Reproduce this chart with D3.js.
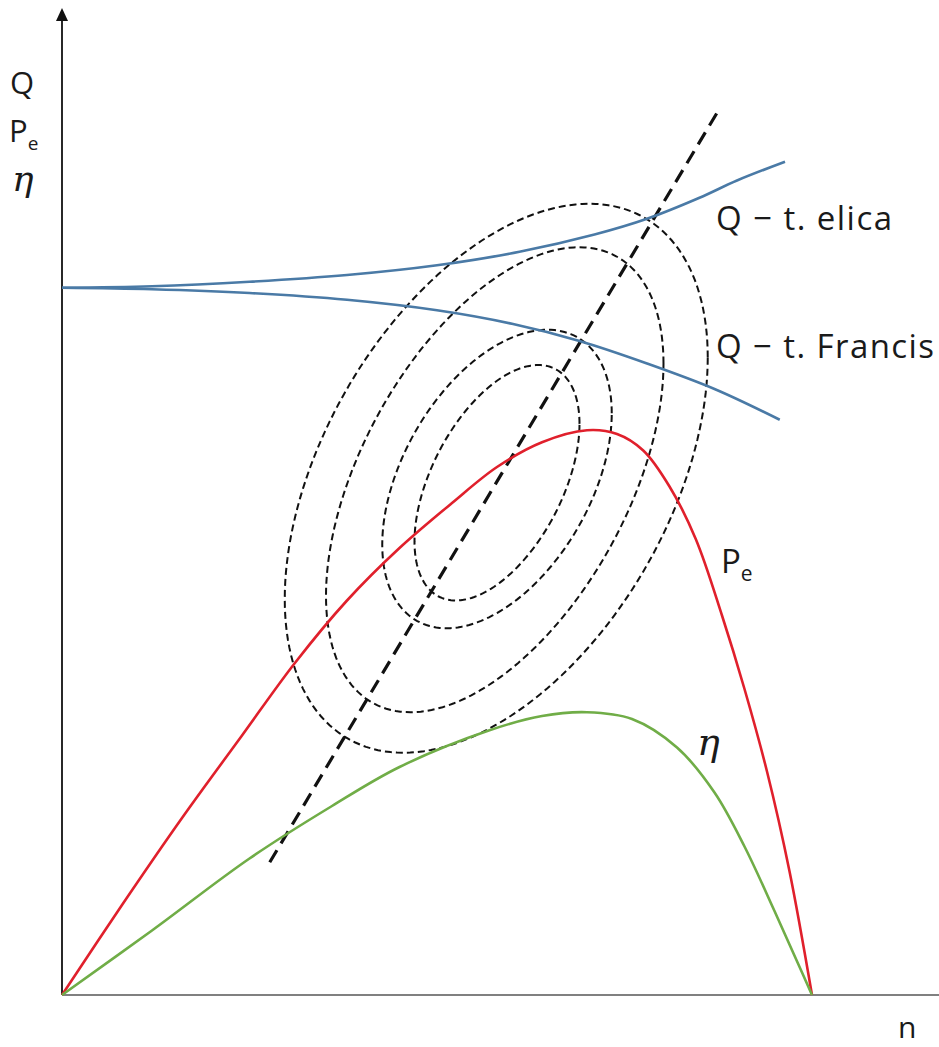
<!DOCTYPE html>
<html>
<head>
<meta charset="utf-8">
<script src="https://cdn.jsdelivr.net/npm/d3@7"></script>
<style>
  body { margin: 0; background: #fff; }
  svg text { font-family: "Open Sans", sans-serif; fill: #1a1a1a; }
</style>
</head>
<body>
<div id="chart"></div>
<script>
// n (speed) on x, values on y -- schematic, arbitrary units 0..100
const qElica = [[0,94.3],[12,94.5],[25,95.1],[38,96.0],[50,97.3],[61,99.1],[71,101.4],[78,103.5],[85,106.3],[90,108.6],[96.4,111.1]];
const qFrancis = [[0,94.3],[12,94.1],[25,93.6],[38,92.7],[50,91.3],[60,89.5],[69,87.2],[78,84.2],[87,80.8],[95.7,76.7]];
const pe = [[0,0],[8,12],[16,23.6],[24,34.6],[31,44.2],[38,52.6],[45,59.6],[52,65.6],[58,70.4],[64,73.7],[70,75.3],[74,74.8],[77.5,72.6],[81,67.8],[84.5,60.8],[88,50.6],[91,40.8],[94,29.8],[97,16.5],[100,0]];
const eta = [[0,0],[12,8.6],[25,18.2],[36,25.2],[45,30.4],[57,35.3],[64,37.2],[70,37.7],[76,36.8],[82,33.0],[87,27.0],[91,19.8],[95,11.2],[98,4.5],[100,0]];
const optimum = [[27.7,17.7],[87.5,117.9]];
// iso-efficiency rings: centre, half-extent along n, half-extent along value, tilt correlation
const ringCx = [57.9, 57.7, 58.0, 58.0];
const ringCy = [68.9, 68.7, 68.8, 68.3];
const ringRx = [28.2, 22.5, 15.3, 11.0];
const ringRy = [36.6, 31.0, 19.9, 15.7];
const ringRho = [0.44, 0.5, 0.44, 0.5];

const W = 939, H = 1047;
const svg = d3.select("#chart").append("svg")
    .attr("width", W)
    .attr("height", H);

const x = d3.scaleLinear().domain([0, 100]).range([62, 812]);
const y = d3.scaleLinear().domain([0, 100]).range([995, 245]);

const line = d3.line()
    .x(d => x(d[0]))
    .y(d => y(d[1]))
    .curve(d3.curveCatmullRom.alpha(0.5));

// rings
const ringLine = d3.line()
    .x(d => x(d[0]))
    .y(d => y(d[1]))
    .curve(d3.curveLinearClosed);

ringCx.forEach(function(cx, i) {
    const phi = Math.acos(ringRho[i]);
    const pts = d3.range(0, 2 * Math.PI, Math.PI / 90).map(t =>
        [cx + ringRx[i] * Math.cos(t), ringCy[i] + ringRy[i] * Math.cos(t - phi)]);
    svg.append("path")
        .attr("d", ringLine(pts))
        .attr("fill", "none")
        .attr("stroke", "#111")
        .attr("stroke-width", 2)
        .attr("stroke-dasharray", "7,4");
});

// optimum line
svg.append("path")
    .attr("d", d3.line().x(d => x(d[0])).y(d => y(d[1]))(optimum))
    .attr("fill", "none")
    .attr("stroke", "#111")
    .attr("stroke-width", 3.2)
    .attr("stroke-dasharray", "14,8");

// axes
svg.append("line")
    .attr("x1", x(0)).attr("x2", W)
    .attr("y1", y(0)).attr("y2", y(0))
    .attr("stroke", "#808080")
    .attr("stroke-width", 2.2);

svg.append("line")
    .attr("x1", x(0)).attr("x2", x(0))
    .attr("y1", y(0)).attr("y2", 18)
    .attr("stroke", "#111")
    .attr("stroke-width", 1.8);

svg.append("path")
    .attr("d", `M${x(0)},8 L${x(0) - 6},21 L${x(0) + 6},21 Z`)
    .attr("fill", "#111");

// curves
const series = [
    {data: qElica, color: "#4a7aa6"},
    {data: qFrancis, color: "#4a7aa6"},
    {data: pe, color: "#e0202c"},
    {data: eta, color: "#70ad47"}
];
series.forEach(function(s) {
    svg.append("path")
        .attr("d", line(s.data))
        .attr("fill", "none")
        .attr("stroke", s.color)
        .attr("stroke-width", 2.6);
});

// labels
const lbl = svg.append("g");
lbl.append("text").attr("x", 10).attr("y", 94).attr("font-size", 31).text("Q");
const peL = lbl.append("text").attr("x", 9).attr("y", 142).attr("font-size", 31);
peL.append("tspan").text("P");
peL.append("tspan").attr("font-size", 19).attr("dy", 8).text("e");
lbl.append("text").attr("x", 12).attr("y", 191)
    .attr("font-size", 36).attr("font-style", "italic")
    .style("font-family", "'DejaVu Serif', serif").text("η");

lbl.append("text").attr("x", 716).attr("y", 230).attr("font-size", 33)
    .attr("textLength", 176).attr("lengthAdjust", "spacing").text("Q − t. elica");
lbl.append("text").attr("x", 716).attr("y", 358).attr("font-size", 33)
    .attr("textLength", 218).attr("lengthAdjust", "spacing").text("Q − t. Francis");

const peR = lbl.append("text").attr("x", 721).attr("y", 573).attr("font-size", 33);
peR.append("tspan").text("P");
peR.append("tspan").attr("font-size", 21).attr("dy", 8).text("e");

lbl.append("text").attr("x", 697).attr("y", 755)
    .attr("font-size", 38).attr("font-style", "italic")
    .style("font-family", "'DejaVu Serif', serif").text("η");

lbl.append("text").attr("x", 898).attr("y", 1038).attr("font-size", 30).text("n");
</script>
</body>
</html>
